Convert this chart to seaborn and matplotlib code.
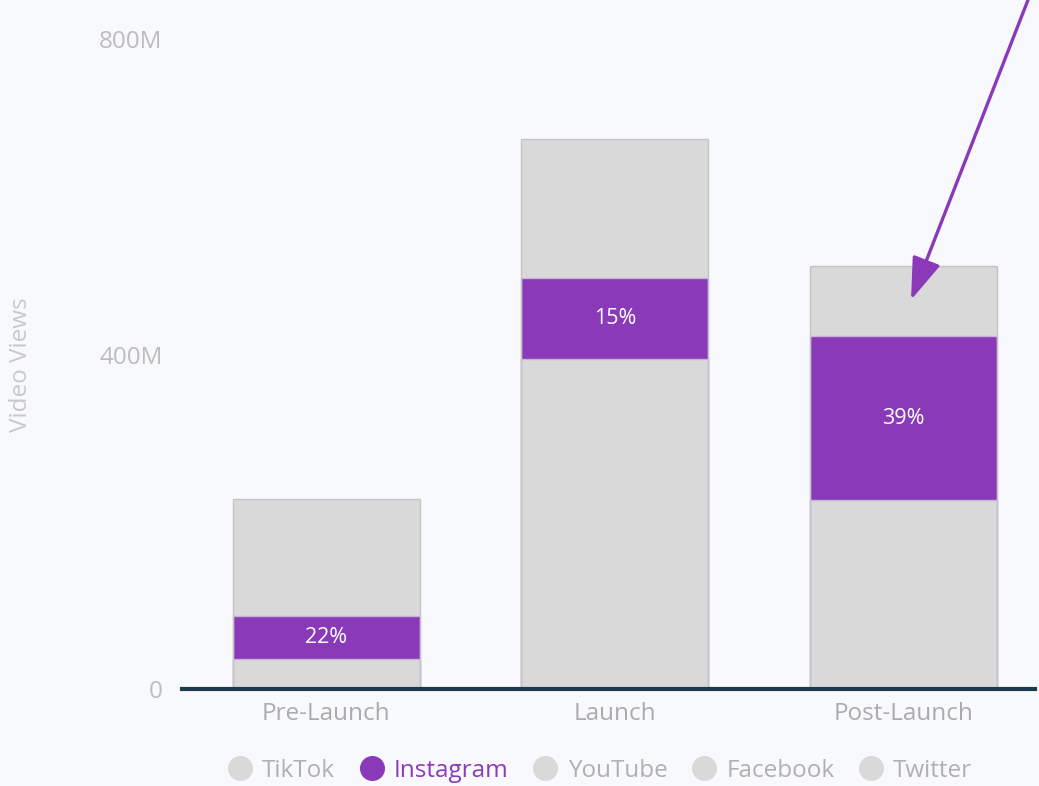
import numpy as np
import matplotlib
matplotlib.use("Agg")
import matplotlib.pyplot as plt
import matplotlib.transforms as mtransforms
from matplotlib.lines import Line2D
import seaborn as sns

# Video views per platform (millions) across the campaign stages
stages = ["Pre-Launch", "Launch", "Post-Launch"]
platforms = ["TikTok", "Instagram", "YouTube", "Facebook", "Twitter"]
tiktok = [36, 395, 226]
instagram = [51, 97, 197]
youtube = [78, 92, 44]
facebook = [42, 48, 26]
twitter = [21, 27, 13]
y_ticks = [0, 400, 800]

PURPLE = "#8A3AB9"
GREY = "#D9D9D9"
BG = "#F8F9FD"

sns.set_theme(style="white")
plt.rcParams["font.family"] = ["Open Sans", "DejaVu Sans"]

series = [tiktok, instagram, youtube, facebook, twitter]
colors = [PURPLE if p == "Instagram" else GREY for p in platforms]
cum = np.cumsum(np.array(series, dtype=float), axis=0)
totals = cum[-1]

W, H = 1039, 786
fig = plt.figure(figsize=(W / 100, H / 100), dpi=100, facecolor=BG)
ax = fig.add_axes([182 / W, 1 - 689 / H, (1035 - 182) / W, 689 / H])
ax.set_facecolor(BG)

bar_w = 0.648
# stacked bars: draw cumulative heights from the top layer down
for i in range(len(platforms) - 1, -1, -1):
    edge = "#C7B3D3" if platforms[i] in ("Instagram", "TikTok") else "none"
    sns.barplot(x=stages, y=cum[i], color=colors[i], saturation=1,
                width=bar_w, errorbar=None, edgecolor=edge, linewidth=1.0,
                ax=ax, zorder=1)

# thin outline around each full bar
sns.barplot(x=stages, y=totals, fill=False, edgecolor="#C4C4C4",
            linewidth=1.0, width=bar_w, errorbar=None, ax=ax, zorder=1.5)

# Instagram share labels
ig_idx = platforms.index("Instagram")
for j, stage in enumerate(stages):
    share = 100 * series[ig_idx][j] / totals[j]
    y_mid = cum[ig_idx - 1][j] + series[ig_idx][j] / 2
    ax.text(j, y_mid, f"{share:.0f}%", ha="center", va="center",
            color="white", fontsize=15.5, zorder=3)

ax.set_xlim(-0.5, (1035 - 182) / 288.5 - 0.5)
ax.set_ylim(0, 689 / 0.835)
ax.set_yticks(y_ticks)
ax.set_yticklabels([("0" if v == 0 else f"{v}M") for v in y_ticks])
ax.tick_params(axis="y", length=0, pad=14, labelsize=17.5, labelcolor="#BDBDBD")
ax.tick_params(axis="x", length=0, pad=9, labelsize=17.5, labelcolor="#ABABAB")
ax.set_xlabel("")
ax.set_ylabel("Video Views", fontsize=17.5, color="#C9C9C9")
ax.yaxis.set_label_coords(-0.175, 0.47)

# keep the top tick label inside the canvas
top_lbl = ax.get_yticklabels()[-1]
top_lbl.set_transform(top_lbl.get_transform() +
                      mtransforms.ScaledTranslation(0, -18 / 100, fig.dpi_scale_trans))

for s in ["top", "right", "left"]:
    ax.spines[s].set_visible(False)
ax.spines["bottom"].set_color("#1F3A4A")
ax.spines["bottom"].set_linewidth(3)
ax.spines["bottom"].set_zorder(4)

# arrow pointing at the post-launch bar
ax.annotate("", xy=(2.027, 466), xycoords="data",
            xytext=(1028 / W, 1.0), textcoords="figure fraction",
            arrowprops=dict(arrowstyle="-|>,head_length=1.3,head_width=0.45",
                            mutation_scale=20, lw=2.4, color=PURPLE,
                            shrinkA=0, shrinkB=0),
            annotation_clip=False, zorder=5)

# legend
handles = [Line2D([], [], marker="o", linestyle="", markersize=17,
                  markerfacecolor=c, markeredgecolor=c) for c in colors]
leg = fig.legend(handles, platforms, loc="center", ncol=len(platforms),
                 bbox_to_anchor=(600 / W, 1 - 771 / H), frameon=False,
                 fontsize=17.5, handlelength=1.0, handletextpad=0.42,
                 columnspacing=1.0, borderaxespad=0, borderpad=0)
for t, c in zip(leg.get_texts(), colors):
    t.set_color(PURPLE if c == PURPLE else "#B0B0B0")

fig.savefig("out.png", dpi=100, facecolor=BG)
